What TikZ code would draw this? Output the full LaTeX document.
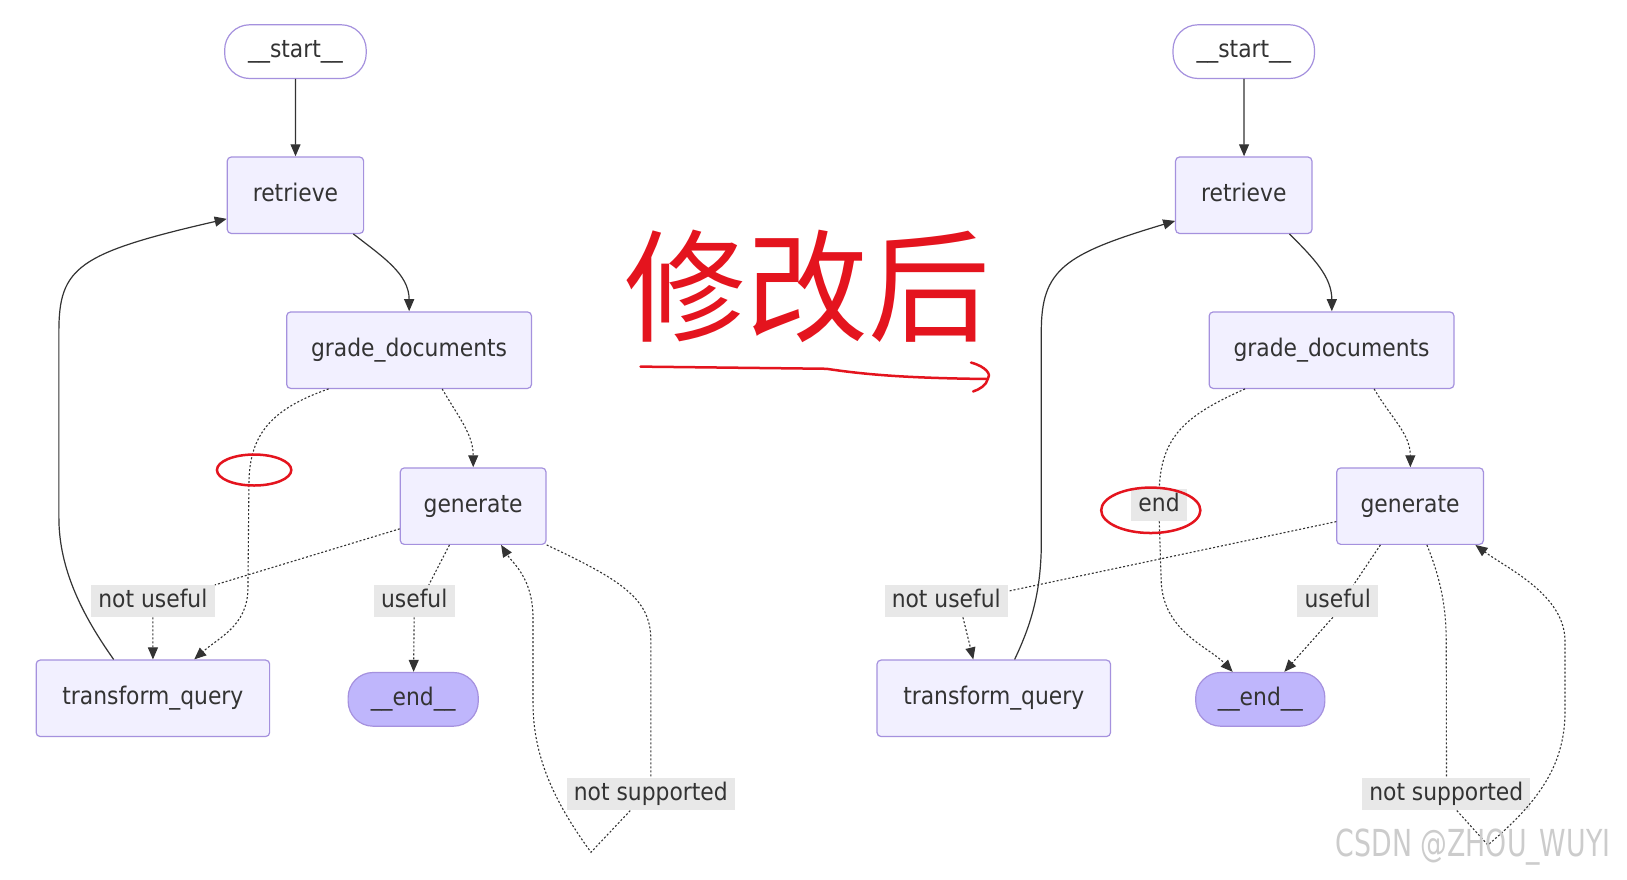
\documentclass[tikz,border=0pt]{standalone}
\usepackage{fontspec}
\usepackage{tikz}
\usetikzlibrary{arrows.meta}
\newfontfamily\graphfont{DejaVu Sans Condensed}
\newfontfamily\cjkfont{Noto Sans CJK SC}
\definecolor{node fill}{RGB}{242,240,255}
\definecolor{node line}{RGB}{165,145,222}
\definecolor{end fill}{RGB}{191,182,252}
\definecolor{label fill}{RGB}{232,232,232}
\definecolor{ink}{RGB}{51,51,51}
\definecolor{pen red}{RGB}{228,20,30}

\begin{document}
\begin{tikzpicture}[x=1pt,y=1pt,scale=1.033,transform shape,
	box/.style={draw=node line,fill=node fill,line width=1.2pt,rounded corners=4pt,
		minimum height=74pt,inner sep=0pt,text=ink,text height=17pt,text depth=5pt,
		font=\graphfont\fontsize{23.5}{24}\selectfont},
	term/.style={box,rounded corners=25pt,minimum height=52pt},
	lbl/.style={fill=label fill,inner xsep=7pt,inner ysep=0pt,minimum height=31pt,
		text=ink,text height=17pt,text depth=5pt,font=\graphfont\fontsize{23.5}{24}\selectfont},
	solid edge/.style={draw=ink,line width=1.2pt,-{Triangle[length=12pt,width=10pt]}},
	dotted line/.style={draw=ink,line width=1.1pt,dash pattern=on 2pt off 2pt},
	dotted edge/.style={dotted line,-{Triangle[length=12pt,width=10pt]}},
	pen/.style={draw=pen red,line width=2.5pt,line cap=round,line join=round}]
	\useasboundingbox[fill=white] (0,0) rectangle (1575,851);

	\node[term,fill=white,minimum width=137pt] (s1) at (286,801) {\_\_start\_\_};
	\node[box,minimum width=132pt] (r1) at (286,662) {retrieve};
	\node[box,minimum width=237pt] (g1) at (396,512) {grade\_documents};
	\node[box,minimum width=141pt] (n1) at (458,361) {generate};
	\node[box,minimum width=226pt] (t1) at (148,175) {transform\_query};
	\node[term,fill=end fill,minimum width=126pt] (e1) at (400,174) {\_\_end\_\_};
	\node[lbl] (nu1) at (148,269) {not useful};
	\node[lbl] (u1) at (401,269) {useful};
	\node[lbl] (ns1) at (630,82) {not supported};
	\coordinate (tip1) at (572,26);

	\draw[solid edge] (s1) -- (r1);
	\draw[solid edge] ([xshift=56pt]r1.south) to[out=-38,in=90] (g1.north);
	\draw[solid edge] ([xshift=-38pt]t1.north) .. controls (80,255) and (57,300) .. (57,350)
		-- (57,530) .. controls (57,592) and (75,606) .. ([yshift=-23pt]r1.west);
	\draw[dotted edge] ([xshift=-78pt]g1.south) .. controls (262,455) and (242,430) .. (241,385)
		-- (240,280) .. controls (239,245) and (212,234) .. ([xshift=40pt]t1.north);
	\draw[dotted edge] ([xshift=32pt]g1.south) to[out=-60,in=90] (n1.north);
	\draw[dotted line] ([yshift=-22pt]n1.west) -- (nu1.north east);
	\draw[dotted edge] (nu1) -- (t1);
	\draw[dotted line] ([xshift=-23pt]n1.south) -- ([xshift=14pt]u1.north);
	\draw[dotted edge] (u1) -- (e1);
	\draw[dotted line] (n1.south east) .. controls (600,290) and (630,272) .. (630,232) -- (ns1.north);
	\draw[dotted edge] ([xshift=-20pt]ns1.south) -- (tip1) .. controls (540,70) and (516,115) .. (516,170)
		-- (516,252) .. controls (516,292) and (496,306) .. ([xshift=27pt]n1.south);

	\node[term,fill=white,minimum width=137pt] (s2) at (1204,801) {\_\_start\_\_};
	\node[box,minimum width=132pt] (r2) at (1204,662) {retrieve};
	\node[box,minimum width=237pt] (g2) at (1289,512) {grade\_documents};
	\node[box,minimum width=142pt] (n2) at (1365,361) {generate};
	\node[box,minimum width=226pt] (t2) at (962,175) {transform\_query};
	\node[term,fill=end fill,minimum width=125pt] (e2) at (1220,174) {\_\_end\_\_};
	\node[lbl] (en2) at (1122,362) {end};
	\node[lbl] (nu2) at (916,269) {not useful};
	\node[lbl] (u2) at (1295,269) {useful};
	\node[lbl] (ns2) at (1400,82) {not supported};
	\coordinate (tip2) at (1440,33);

	\draw[solid edge] (s2) -- (r2);
	\draw[solid edge] ([xshift=44pt]r2.south) to[out=-45,in=90] (g2.north);
	\draw[solid edge] ([xshift=20pt]t2.north) .. controls (1000,250) and (1007,280) .. (1008,320)
		-- (1008,530) .. controls (1008,590) and (1030,605) .. ([yshift=-25pt]r2.west);
	\draw[dotted line] ([xshift=-84pt]g2.south) .. controls (1150,450) and (1124,430) .. (en2.north);
	\draw[dotted edge] (en2.south) -- (1124,290) .. controls (1125,240) and (1170,225) .. ([xshift=-27pt]e2.north);
	\draw[dotted edge] ([xshift=41pt]g2.south) to[out=-60,in=90] (n2.north);
	\draw[dotted line] ([yshift=-15pt]n2.west) -- ([yshift=-6pt]nu2.north east);
	\draw[dotted edge] ([xshift=16pt]nu2.south) -- ([xshift=-20pt]t2.north);
	\draw[dotted line] ([xshift=-29pt]n2.south) -- ([xshift=15pt]u2.north);
	\draw[dotted edge] ([xshift=-5pt]u2.south) -- ([xshift=23pt]e2.north);
	\draw[dotted line] ([xshift=16pt]n2.south) .. controls (1395,290) and (1400,262) .. (1400,230) -- (ns2.north);
	\draw[dotted edge] ([xshift=10pt]ns2.south) -- (tip2) .. controls (1490,75) and (1514,110) .. (1515,160)
		-- (1515,230) .. controls (1515,275) and (1460,300) .. ([xshift=63pt]n2.south);

	\node[text=pen red,font=\cjkfont\fontsize{118}{118}\selectfont] (title) at (782,574) {修改后};
	\coordinate (pen a) at (620,496);
	\coordinate (pen b) at (956,484);
	\draw[pen] (pen a) -- (800,494) .. controls (840,488) and (880,485) .. (pen b);
	\draw[pen] (940,500) .. controls (955,496) and (960,488) .. (pen b) .. controls (955,478) and (948,474) .. (942,472);
	\draw[pen] (246,396) ellipse [x radius=36pt,y radius=15pt];
	\draw[pen] (1114,357) ellipse [x radius=48pt,y radius=22pt];

	\node[font=\graphfont\fontsize{36}{36}\selectfont,text=gray!40,xscale=0.8] (mark) at (1426,31) {CSDN @ZHOU\_WUYI};
\end{tikzpicture}
\end{document}
